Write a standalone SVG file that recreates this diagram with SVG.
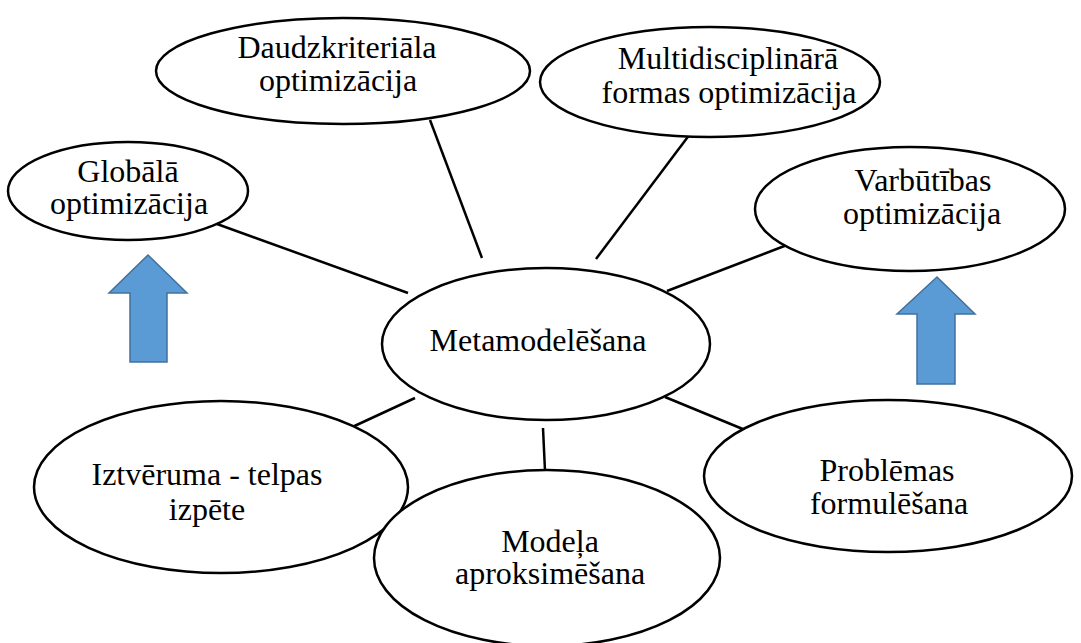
<svg xmlns="http://www.w3.org/2000/svg" width="1081" height="643" viewBox="0 0 1081 643">
<style>
.n{fill:#fff;stroke:#000;stroke-width:2.5}
.c{stroke:#000;stroke-width:2.5;fill:none}
.a{fill:#5B9BD5;stroke:#41719C;stroke-width:1.5}
.t{font-family:'Liberation Serif','Times New Roman',serif;font-size:32px;fill:#000;text-anchor:middle}
</style>
<rect width="1081" height="643" fill="#fff"/>
<g id="connectors">
<line class="c" x1="217" y1="224" x2="408" y2="293"/>
<line class="c" x1="430" y1="120" x2="482" y2="258"/>
<line class="c" x1="690" y1="134" x2="596" y2="259"/>
<line class="c" x1="800" y1="240" x2="667" y2="291"/>
<line class="c" x1="665" y1="397" x2="750" y2="432"/>
<line class="c" x1="543" y1="428" x2="545" y2="471"/>
<line class="c" x1="415" y1="398" x2="335" y2="435"/>
</g>
<g id="arrow-left"><polygon class="a" points="148,255 187,293 167,293 167,362 130,362 130,293 109,293"/></g>
<g id="arrow-right"><polygon class="a" points="937,277 975,314 955,314 955,384 917,384 917,314 897,314"/></g>
<g id="center"><ellipse class="n" cx="546" cy="344" rx="164" ry="76"/><text class="t" x="538" y="351">Metamodelēšana</text></g>
<g id="globala"><ellipse class="n" cx="128" cy="191" rx="120" ry="49"/><text class="t" x="128" y="182">Globālā</text><text class="t" x="129" y="214">optimizācija</text></g>
<g id="daudz"><ellipse class="n" cx="343" cy="71" rx="187" ry="53"/><text class="t" x="337" y="58">Daudzkriteriāla</text><text class="t" x="338" y="91">optimizācija</text></g>
<g id="multi"><ellipse class="n" cx="710" cy="82" rx="170" ry="55"/><text class="t" x="728" y="69">Multidisciplinārā</text><text class="t" x="729" y="103">formas optimizācija</text></g>
<g id="varb"><ellipse class="n" cx="910" cy="209" rx="155" ry="62"/><text class="t" x="923" y="191">Varbūtības</text><text class="t" x="922" y="224">optimizācija</text></g>
<g id="probl"><ellipse class="n" cx="888" cy="476" rx="184" ry="76"/><text class="t" x="887" y="481">Problēmas</text><text class="t" x="889" y="514">formulēšana</text></g>
<g id="iztv"><ellipse class="n" cx="221" cy="487" rx="187" ry="86"/><text class="t" x="207" y="485">Iztvēruma - telpas</text><text class="t" x="207" y="520">izpēte</text></g>
<g id="model"><ellipse class="n" cx="547" cy="558" rx="173" ry="88"/><text class="t" x="550" y="552">Modeļa</text><text class="t" x="550" y="584">aproksimēšana</text></g>
</svg>
